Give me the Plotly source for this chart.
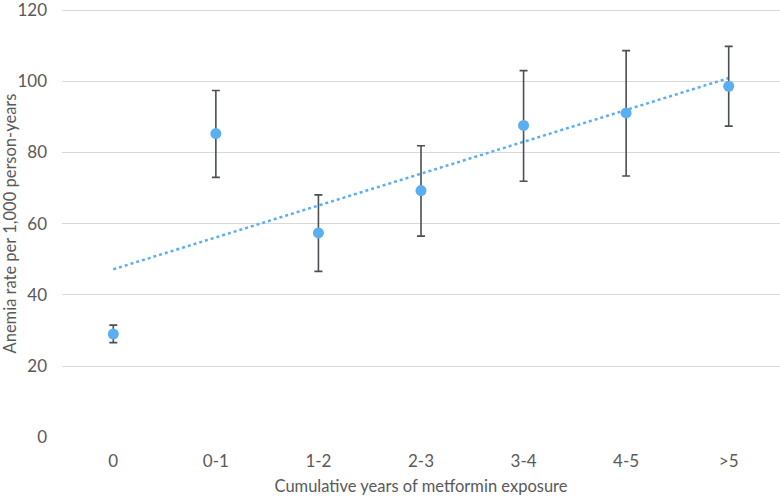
import numpy as np
import plotly.graph_objects as go

categories = ["0", "0-1", "1-2", "2-3", "3-4", "4-5", ">5"]
rate = [29.0, 85.3, 57.4, 69.3, 87.6, 91.1, 98.6]
upper = [31.5, 97.4, 68.1, 81.9, 103.0, 108.6, 109.8]
lower = [26.6, 73.0, 46.6, 56.5, 71.9, 73.4, 87.4]
y_ticks = [0, 20, 40, 60, 80, 100, 120]

rate_a = np.array(rate)
err_plus = np.array(upper) - rate_a
err_minus = rate_a - np.array(lower)

# linear trendline fitted to the plotted rates
idx = np.arange(1, len(categories) + 1)
slope, intercept = np.polyfit(idx, rate_a, 1)
trend_y = [intercept + slope * idx[0], intercept + slope * idx[-1]]

blue = "#5aaef2"
font = "Lato, 'Open Sans', sans-serif"

fig = go.Figure()
fig.add_trace(go.Scatter(
    x=[categories[0], categories[-1]], y=trend_y, mode="lines",
    line=dict(color=blue, width=2.5, dash="dot"), hoverinfo="skip",
))
fig.add_trace(go.Scatter(
    x=categories, y=rate, mode="markers",
    marker=dict(color=blue, size=11),
    error_y=dict(type="data", symmetric=False, array=err_plus, arrayminus=err_minus,
                 color="#4a4f52", thickness=1.6, width=4),
))

fig.update_layout(
    width=780, height=496,
    margin=dict(l=62, r=0, t=9, b=58),
    paper_bgcolor="white", plot_bgcolor="white",
    showlegend=False,
    font=dict(family=font, size=17, color="#595959"),
    xaxis=dict(
        type="category", categoryorder="array", categoryarray=categories,
        range=[-0.5, 6.5], showgrid=False, zeroline=False, showline=False,
        ticks="", ticklabelstandoff=11, automargin=False,
        title=dict(text="Cumulative years of metformin exposure", standoff=10,
                   font=dict(size=16.5, color="#595959")),
    ),
    yaxis=dict(
        range=[-0.2, 120.3], tickvals=y_ticks, showgrid=True, gridcolor="#d9d9d9", gridwidth=1,
        zeroline=False, showline=False, ticks="", ticklabelstandoff=14, automargin=False,
        ticklabeloverflow="allow",
        title=dict(text="Anemia rate per 1,000 person-years", standoff=10,
                   font=dict(size=16.5, color="#595959")),
    ),
)

fig.write_html("out.html", config={"displayModeBar": False},
               post_script="document.body.style.margin='0';document.body.style.padding='0';")
